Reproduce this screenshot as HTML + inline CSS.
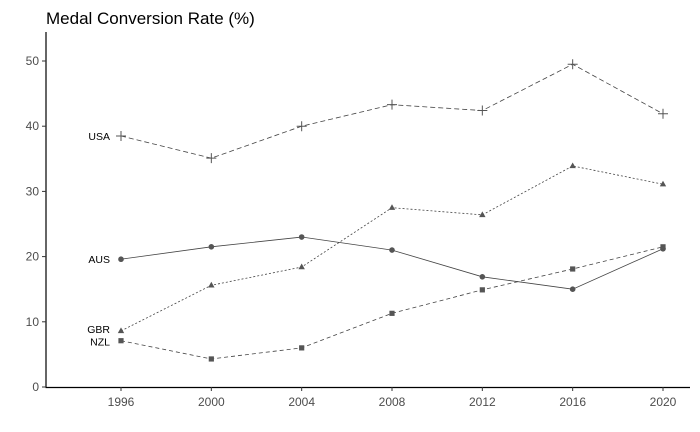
<!DOCTYPE html>
<html><head><meta charset="utf-8"><style>
body{margin:0;background:#fff;}
svg{display:block;font-family:"Liberation Sans",sans-serif;}
</style></head><body>
<svg id="chart" width="700" height="432">
<text x="46" y="24" font-size="17" fill="#000">Medal Conversion Rate (%)</text>
<line x1="46" y1="32" x2="46" y2="387.5" stroke="#000" stroke-width="1.2"/>
<line x1="45.5" y1="387.5" x2="690" y2="387.5" stroke="#000" stroke-width="1.2"/>
<g id="ticks"></g>
<g id="series"></g>
</svg>
<script>
const years=[1996,2000,2004,2008,2012,2016,2020];
const yTicks=[0,10,20,30,40,50];
const usa=[38.5,35.1,40.0,43.3,42.4,49.5,41.9];
const gbr=[8.6,15.6,18.4,27.5,26.4,33.9,31.1];
const aus=[19.6,21.5,23.0,21.0,16.9,15.0,21.2];
const nzl=[7.1,4.3,6.0,11.3,14.9,18.1,21.5];
const names=["USA","GBR","AUS","NZL"];
const NS="http://www.w3.org/2000/svg";
const xs=y=>121+(y-1996)*(663-121)/24;
const ys=v=>387-v*6.52;
function mk(t,a,p){const e=document.createElementNS(NS,t);for(const k in a)e.setAttribute(k,a[k]);p.appendChild(e);return e;}
const tg=document.getElementById('ticks'),sg=document.getElementById('series');
yTicks.forEach(v=>{
 const l=mk('line',{x1:42,x2:46,y1:ys(v),y2:ys(v),stroke:'#333'},tg);
 
 
 const t=mk('text',{x:39,y:ys(v)+4,'text-anchor':'end','font-size':12,fill:'#4d4d4d'},tg);
 t.textContent=v;
 
 
});
years.forEach(y=>{
 const l=mk('line',{x1:xs(y),x2:xs(y),y1:387,y2:391,stroke:'#333'},tg);
 
 
 const t=mk('text',{x:xs(y),y:406,'text-anchor':'middle','font-size':12,fill:'#4d4d4d'},tg);
 t.textContent=y;
 
 
});
const series=[usa,gbr,aus,nzl];
const dashes=["5,3","2,2","none","4,3"];
const shapes=["plus","tri","circle","square"];
const labelDy=[4,2,4,5];
series.forEach((d,i)=>{
 const g=mk('g',{},sg);
 
 
 const pts=d.map((v,j)=>xs(years[j])+','+ys(v)).join(' ');
 const pl=mk('polyline',{points:pts,fill:'none',stroke:'#444','stroke-width':0.8,'stroke-dasharray':dashes[i]},g);
 
 
 d.forEach((v,j)=>{
  const x=xs(years[j]),y=ys(v);let m;
  if(shapes[i]=="plus"){m=mk('path',{d:`M${x-5},${y}H${x+5}M${x},${y-5}V${y+5}`,stroke:'#555','stroke-width':1},g);}
  else if(shapes[i]=="tri"){m=mk('path',{d:`M${x},${y-3.5}L${x+3.2},${y+2.2}L${x-3.2},${y+2.2}Z`,fill:'#555'},g);}
  else if(shapes[i]=="circle"){m=mk('circle',{cx:x,cy:y,r:2.8,fill:'#555'},g);}
  else {m=mk('rect',{x:x-2.6,y:y-2.6,width:5.2,height:5.2,fill:'#555'},g);}
  
  
 });
 const t=mk('text',{x:xs(1996)-11,y:ys(d[0])+labelDy[i],'text-anchor':'end','font-size':10.5,fill:'#000'},g);
 t.textContent=names[i];
 
 
});
</script>
</body></html>
